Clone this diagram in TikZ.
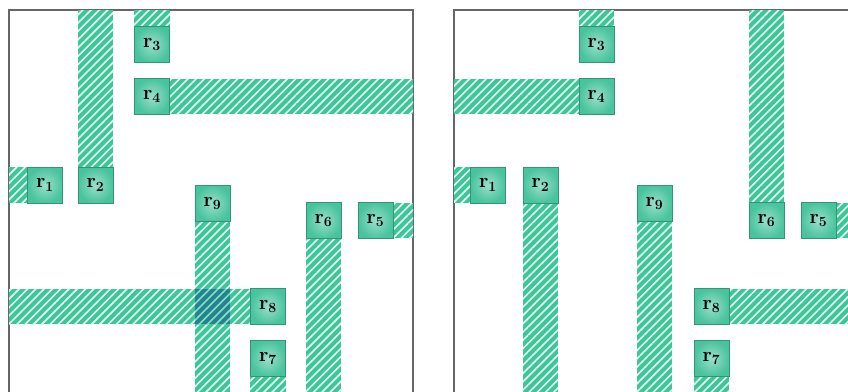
\documentclass[tikz,border=0pt]{standalone}
\usepackage{tikz}
\usetikzlibrary{patterns.meta}
\definecolor{stripC}{RGB}{62,198,152}
\definecolor{boxC}{RGB}{72,196,156}
\definecolor{crossC}{RGB}{34,132,146}
\tikzset{
  wire/.style  ={fill=stripC, postaction={pattern={Lines[angle=45,distance=5pt,line width=1.4pt]}, pattern color=white!85!stripC}},
  wireX/.style ={fill=crossC, postaction={pattern={Lines[angle=45,distance=5pt,line width=1.4pt]}, pattern color=stripC!60!white}},
  rbox/.style  ={draw=boxC!75!black, line width=0.3pt, inner color=boxC!55!white, outer color=boxC,
                 minimum width=1.05cm, minimum height=1.08cm, inner sep=0pt, font=\LARGE\boldmath},
  frame/.style ={draw=black!60, line width=1.3pt},
}
\begin{document}
\begin{tikzpicture}[x=0.03cm, y=-0.03cm]
  \useasboundingbox (0,0) rectangle (848,391);
  \clip (0,0) rectangle (848,391);
  \fill[white] (0,0) rectangle (848,391);
  % left layout
  \draw[frame] (9,420) -- (9,10) -- (413,10) -- (413,420);
  \fill[wire] (9,167) rectangle (45,203);
  \fill[wire] (78,10) rectangle (113,185);
  \fill[wire] (134,10) rectangle (170,44);
  \fill[wire] (152,79) rectangle (413,114);
  \fill[wire] (375,203) rectangle (413,238);
  \fill[wire] (306,220) rectangle (341,400);
  \fill[wire] (250,358) rectangle (286,400);
  \fill[wire] (9,289) rectangle (268,324);
  \fill[wire] (195,203) rectangle (230,400);
  \fill[wireX] (195,289) rectangle (230,324);
  \node[rbox] (Lr1) at (45,185)    {$\mathrm{r}_{1}$};
  \node[rbox] (Lr2) at (95.5,185)  {$\mathrm{r}_{2}$};
  \node[rbox] (Lr3) at (152,44.5)  {$\mathrm{r}_{3}$};
  \node[rbox] (Lr4) at (152,96.5)  {$\mathrm{r}_{4}$};
  \node[rbox] (Lr5) at (375.5,220.5) {$\mathrm{r}_{5}$};
  \node[rbox] (Lr6) at (323.5,220.5) {$\mathrm{r}_{6}$};
  \node[rbox] (Lr7) at (268,358.5) {$\mathrm{r}_{7}$};
  \node[rbox] (Lr8) at (268,306.5) {$\mathrm{r}_{8}$};
  \node[rbox] (Lr9) at (212.5,203.5) {$\mathrm{r}_{9}$};
  % right layout
  \draw[frame] (454,420) -- (454,10) -- (870,10);
  \fill[wire] (454,167) rectangle (488,203);
  \fill[wire] (523,185) rectangle (558,400);
  \fill[wire] (579,10) rectangle (614,44);
  \fill[wire] (454,79) rectangle (596,114);
  \fill[wire] (818,203) rectangle (860,238);
  \fill[wire] (749,10) rectangle (784,220);
  \fill[wire] (694,358) rectangle (729,400);
  \fill[wire] (711,289) rectangle (860,324);
  \fill[wire] (637,203) rectangle (672,400);
  \node[rbox] (Rr1) at (488,185)    {$\mathrm{r}_{1}$};
  \node[rbox] (Rr2) at (540.5,185)  {$\mathrm{r}_{2}$};
  \node[rbox] (Rr3) at (596.5,44.5) {$\mathrm{r}_{3}$};
  \node[rbox] (Rr4) at (596.5,96.5) {$\mathrm{r}_{4}$};
  \node[rbox] (Rr5) at (818.5,220.5) {$\mathrm{r}_{5}$};
  \node[rbox] (Rr6) at (766.5,220.5) {$\mathrm{r}_{6}$};
  \node[rbox] (Rr7) at (711.5,358.5) {$\mathrm{r}_{7}$};
  \node[rbox] (Rr8) at (711.5,306.5) {$\mathrm{r}_{8}$};
  \node[rbox] (Rr9) at (654.5,203.5) {$\mathrm{r}_{9}$};
\end{tikzpicture}
\end{document}
